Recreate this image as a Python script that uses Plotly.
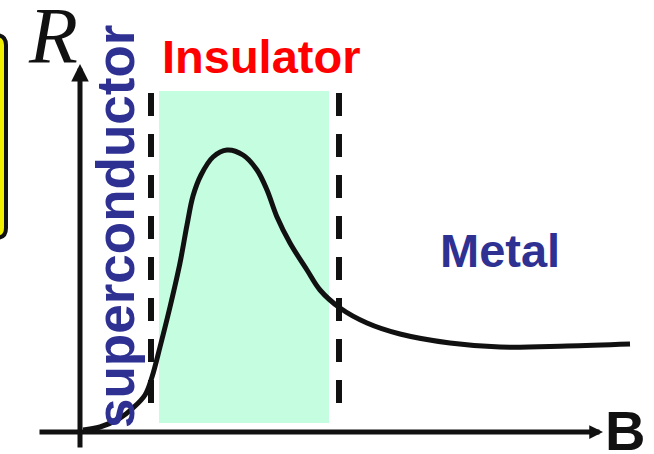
import plotly.graph_objects as go

# ---- data (B in arbitrary units, R in arbitrary units) ----
curve_B = [0.03, 0.20, 0.40, 0.53, 0.65, 0.72, 0.80, 0.90, 1.00, 1.07, 1.13, 1.21, 1.33,
           1.47, 1.63, 1.77, 1.87, 1.97, 2.10, 2.27, 2.40, 2.60, 2.87, 3.20, 3.70, 4.20,
           4.87, 5.50]
curve_R = [0.02, 0.05, 0.14, 0.24, 0.37, 0.55, 0.85, 1.25, 1.69, 2.07, 2.36, 2.57, 2.75,
           2.82, 2.77, 2.62, 2.42, 2.15, 1.89, 1.62, 1.42, 1.24, 1.09, 0.98, 0.89, 0.85,
           0.86, 0.88]

insulator_B = [0.79, 2.49]          # shaded insulator window
insulator_R = [0.09, 3.41]
boundary_B = [0.71, 2.59]           # dashed phase boundaries
boundary_R = [0.17, 3.39]

x_axis_B = [-0.42, 5.23]
y_axis_R = [-0.17, 3.68]

labels = ["superconductor", "Insulator", "Metal"]
label_B = [0.35, 1.81, 4.20]
label_R = [2.05, 3.76, 1.82]
label_colors = ["#2e3192", "#ff0000", "#2e3192"]

XR = [-0.80, 5.74]
YR = [-0.22, 4.32]

fig = go.Figure()

fig.add_trace(go.Scatter(
    x=curve_B, y=curve_R, mode="lines",
    line=dict(color="#111111", width=5, shape="spline", smoothing=1.0),
    hoverinfo="skip", showlegend=False))

shapes = []
# yellow rounded box at left edge (partially off-canvas)
yb = dict(x0=-1.0, x1=-0.74, y0=1.94, y1=3.97, r=0.1)
path = (f"M {yb['x0']},{yb['y1']} L {yb['x1']-yb['r']},{yb['y1']} "
        f"Q {yb['x1']},{yb['y1']} {yb['x1']},{yb['y1']-yb['r']} "
        f"L {yb['x1']},{yb['y0']+yb['r']} "
        f"Q {yb['x1']},{yb['y0']} {yb['x1']-yb['r']},{yb['y0']} "
        f"L {yb['x0']},{yb['y0']} Z")
shapes.append(dict(type="path", path=path, xref="x", yref="y",
                   fillcolor="#f0f000", line=dict(color="#111111", width=4), layer="below"))
shapes.append(dict(type="rect", xref="x", yref="y",
                   x0=insulator_B[0], x1=insulator_B[1], y0=insulator_R[0], y1=insulator_R[1],
                   fillcolor="#c4fde0", line=dict(width=0), layer="below"))
for b in boundary_B:
    shapes.append(dict(type="line", xref="x", yref="y", x0=b, x1=b,
                       y0=boundary_R[1], y1=boundary_R[0],
                       line=dict(color="#111111", width=6, dash="23px,18px"), layer="below"))

annotations = []
# axes with arrowheads
annotations.append(dict(x=x_axis_B[1], y=0, ax=x_axis_B[0], ay=0, xref="x", yref="y",
                        axref="x", ayref="y", text="", showarrow=True, arrowhead=2,
                        arrowwidth=5, arrowsize=0.55, arrowcolor="#111111"))
annotations.append(dict(x=0, y=y_axis_R[1], ax=0, ay=y_axis_R[0], xref="x", yref="y",
                        axref="x", ayref="y", text="", showarrow=True, arrowhead=2,
                        arrowwidth=5, arrowsize=0.7, arrowcolor="#111111"))
for t, bx, ry, c in zip(labels, label_B, label_R, label_colors):
    annotations.append(dict(x=bx, y=ry, xref="x", yref="y", text=t, showarrow=False,
                            textangle=-90 if t == "superconductor" else 0,
                            font=dict(family="Liberation Sans", size=53 if t == "superconductor" else 47,
                                      color=c, weight="bold"),
                            xanchor="center", yanchor="middle"))
annotations.append(dict(x=5.45, y=0.02, xref="x", yref="y", text="<b>B</b>", showarrow=False,
                        font=dict(family="Liberation Sans", size=56, color="#111111"),
                        xanchor="center", yanchor="middle"))
annotations.append(dict(x=-0.27, y=3.96, xref="x", yref="y", text="<i>R</i>", showarrow=False,
                        font=dict(family="Liberation Serif", size=80, color="#111111"),
                        xanchor="center", yanchor="middle"))

fig.update_layout(
    width=654, height=454, margin=dict(l=0, r=0, t=0, b=0),
    paper_bgcolor="white", plot_bgcolor="white",
    xaxis=dict(range=XR, visible=False, fixedrange=True),
    yaxis=dict(range=YR, visible=False, fixedrange=True),
    shapes=shapes, annotations=annotations, showlegend=False)

fig.write_html("out.html", config={"displayModeBar": False},
               post_script="document.body.style.margin='0';document.body.style.overflow='hidden';")
